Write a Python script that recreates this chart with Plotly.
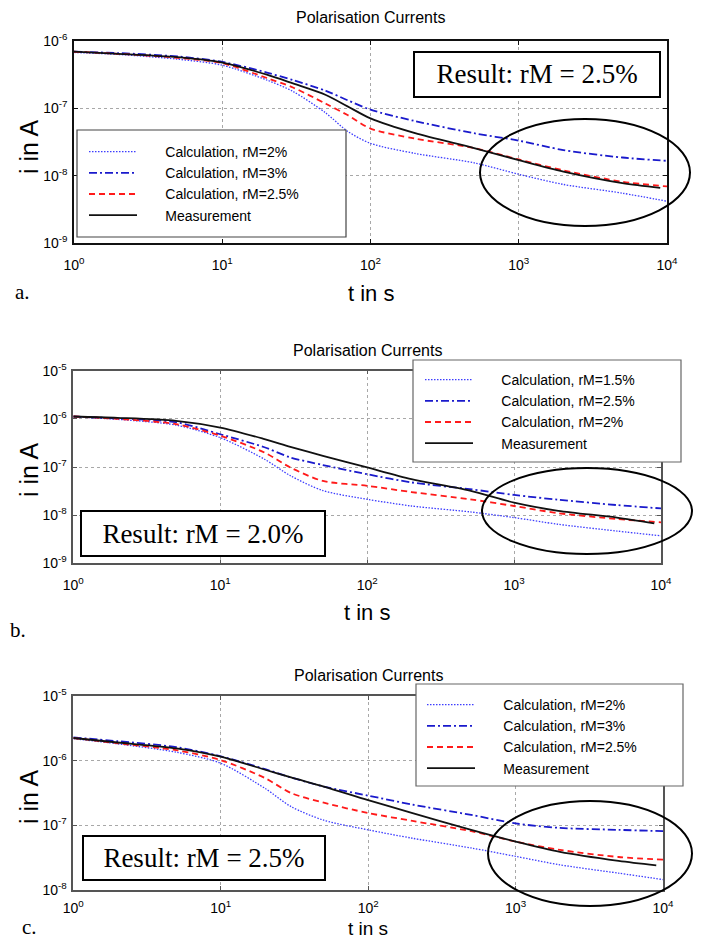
import plotly.graph_objects as go

# The page body has an 8px margin, so the figure is sized to fit inside it
# and reference page pixels are converted to figure pixels (minus 8).
OFF = 8
W, H = 701 - 2 * OFF, 949 - 2 * OFF


def px(x):
    return (x - OFF) / W


def py(y):
    return 1 - (y - OFF) / H


# ---------------- data ----------------
x_tickvals = [1, 10, 100, 1000, 10000]
x_ticktext = ["10<sup>0</sup>", "10<sup>1</sup>", "10<sup>2</sup>", "10<sup>3</sup>", "10<sup>4</sup>"]

# panel a
t_a_calc = [1, 2, 5, 10, 20, 30, 50, 70, 100, 200, 500, 1000, 2000, 5000, 10000]
t_a_meas = [1, 2, 5, 10, 20, 30, 50, 70, 100, 200, 500, 1000, 2000, 5000, 9000]
a_calc_2 = [6.76e-7, 6.31e-7, 5.37e-7, 4.37e-7, 2.63e-7, 1.78e-7, 8.51e-8, 4.57e-8, 3.02e-8, 2.14e-8, 1.55e-8, 1.05e-8, 7.41e-9, 5.50e-9, 4.17e-9]
a_calc_3 = [6.92e-7, 6.61e-7, 5.89e-7, 4.90e-7, 3.39e-7, 2.63e-7, 1.82e-7, 1.32e-7, 9.55e-8, 6.46e-8, 4.27e-8, 3.31e-8, 2.40e-8, 1.86e-8, 1.66e-8]
a_calc_25 = [6.92e-7, 6.46e-7, 5.62e-7, 4.68e-7, 2.82e-7, 2.04e-7, 1.17e-7, 7.94e-8, 5.01e-8, 3.55e-8, 2.57e-8, 1.74e-8, 1.20e-8, 8.13e-9, 6.92e-9]
a_meas = [6.95e-7, 6.46e-7, 5.75e-7, 4.79e-7, 3.16e-7, 2.34e-7, 1.58e-7, 1.07e-7, 7.08e-8, 4.27e-8, 2.57e-8, 1.70e-8, 1.15e-8, 7.76e-9, 6.61e-9]
a_names = ["Calculation, rM=2%", "Calculation, rM=3%", "Calculation, rM=2.5%", "Measurement"]
a_yvals = [1e-9, 1e-8, 1e-7, 1e-6]
a_ytext = ["10<sup>-9</sup>", "10<sup>-8</sup>", "10<sup>-7</sup>", "10<sup>-6</sup>"]
a_result = "Result: rM = 2.5%"

# panel b
t_b_calc = [1, 2, 5, 10, 20, 30, 50, 100, 200, 500, 1000, 2000, 5000, 10000]
t_b_meas = [1, 2, 5, 10, 20, 30, 50, 100, 200, 500, 1000, 2000, 5000, 9000]
b_calc_15 = [1.10e-6, 9.77e-7, 7.41e-7, 4.07e-7, 1.45e-7, 6.61e-8, 3.24e-8, 2.14e-8, 1.55e-8, 1.17e-8, 8.91e-9, 6.46e-9, 4.68e-9, 3.72e-9]
b_calc_25 = [1.12e-6, 1.02e-6, 8.51e-7, 4.79e-7, 2.57e-7, 1.58e-7, 1.10e-7, 7.08e-8, 4.79e-8, 3.47e-8, 2.63e-8, 2.09e-8, 1.62e-8, 1.38e-8]
b_calc_2 = [1.12e-6, 1.00e-6, 7.76e-7, 4.47e-7, 2.00e-7, 9.77e-8, 5.13e-8, 4.07e-8, 3.02e-8, 2.14e-8, 1.55e-8, 1.10e-8, 8.32e-9, 7.08e-9]
b_meas = [1.12e-6, 1.05e-6, 9.12e-7, 6.61e-7, 3.80e-7, 2.63e-7, 1.70e-7, 9.77e-8, 5.62e-8, 3.24e-8, 1.82e-8, 1.23e-8, 8.91e-9, 6.76e-9]
b_names = ["Calculation, rM=1.5%", "Calculation, rM=2.5%", "Calculation, rM=2%", "Measurement"]
b_yvals = [1e-9, 1e-8, 1e-7, 1e-6, 1e-5]
b_ytext = ["10<sup>-9</sup>", "10<sup>-8</sup>", "10<sup>-7</sup>", "10<sup>-6</sup>", "10<sup>-5</sup>"]
b_result = "Result: rM = 2.0%"

# panel c
t_c_calc = [1, 2, 5, 10, 20, 30, 50, 100, 200, 500, 1000, 2000, 5000, 10000]
t_c_meas = [1, 2, 5, 10, 20, 30, 50, 100, 200, 500, 1000, 2000, 5000, 9000]
c_calc_2 = [2.19e-6, 1.82e-6, 1.35e-6, 9.12e-7, 3.72e-7, 1.95e-7, 1.20e-7, 8.51e-8, 6.31e-8, 4.47e-8, 3.31e-8, 2.45e-8, 1.82e-8, 1.45e-8]
c_calc_3 = [2.29e-6, 2.00e-6, 1.62e-6, 1.17e-6, 7.41e-7, 5.50e-7, 3.98e-7, 2.88e-7, 2.09e-7, 1.45e-7, 1.07e-7, 9.12e-8, 8.51e-8, 8.13e-8]
c_calc_25 = [2.24e-6, 1.86e-6, 1.45e-6, 1.02e-6, 5.37e-7, 3.16e-7, 2.24e-7, 1.55e-7, 1.17e-7, 8.13e-8, 5.62e-8, 4.17e-8, 3.24e-8, 2.95e-8]
c_meas = [2.24e-6, 1.91e-6, 1.55e-6, 1.15e-6, 7.24e-7, 5.50e-7, 3.98e-7, 2.45e-7, 1.55e-7, 8.51e-8, 5.62e-8, 3.89e-8, 2.82e-8, 2.40e-8]
c_names = ["Calculation, rM=2%", "Calculation, rM=3%", "Calculation, rM=2.5%", "Measurement"]
c_yvals = [1e-8, 1e-7, 1e-6, 1e-5]
c_ytext = ["10<sup>-8</sup>", "10<sup>-7</sup>", "10<sup>-6</sup>", "10<sup>-5</sup>"]
c_result = "Result: rM = 2.5%"

title_text = "Polarisation Currents"
x_title = "t in s"
y_title = "i in A"
panel_letters = ["a.", "b.", "c."]

# ---------------- styles ----------------
SANS = "Liberation Sans, Arial, sans-serif"
SERIF = "Liberation Serif, Times New Roman, serif"
PAD = "\u00a0" * 6

styles = [
    dict(color="#3d3dff", width=1.3, dash="1.5px,1.5px"),
    dict(color="#1a1acc", width=1.8, dash="8px,3px,2px,3px"),
    dict(color="#ff1a1a", width=1.8, dash="6px,4px"),
    dict(color="#111111", width=1.8, dash="solid"),
]

fig = go.Figure()

panels = [
    dict(xa="x", ya="y", leg="legend",
         series=[(t_a_calc, a_calc_2), (t_a_calc, a_calc_3), (t_a_calc, a_calc_25), (t_a_meas, a_meas)],
         names=a_names),
    dict(xa="x2", ya="y2", leg="legend2",
         series=[(t_b_calc, b_calc_15), (t_b_calc, b_calc_25), (t_b_calc, b_calc_2), (t_b_meas, b_meas)],
         names=b_names),
    dict(xa="x3", ya="y3", leg="legend3",
         series=[(t_c_calc, c_calc_2), (t_c_calc, c_calc_3), (t_c_calc, c_calc_25), (t_c_meas, c_meas)],
         names=c_names),
]

for p in panels:
    for (tx, vy), nm, st in zip(p["series"], p["names"], styles):
        fig.add_trace(go.Scatter(
            x=tx, y=vy, mode="lines", name=PAD + nm,
            xaxis=p["xa"], yaxis=p["ya"], legend=p["leg"],
            line=dict(color=st["color"], width=st["width"], dash=st["dash"],
                      shape="spline", smoothing=0.8),
        ))

# geometry (reference page pixels)
geo = [
    dict(l=74, r=667, t=41, b=243, yr=[-9, -6], yv=a_yvals, yt=a_ytext, frame="#111111", so=8),
    dict(l=73.3, r=661, t=370.7, b=563.3, yr=[-9, -5], yv=b_yvals, yt=b_ytext, frame="#555555", so=8),
    dict(l=73.3, r=663, t=696, b=890, yr=[-8, -5], yv=c_yvals, yt=c_ytext, frame="#555555", so=4),
]

layout = dict(
    width=W, height=H, margin=dict(l=0, r=0, t=0, b=0, autoexpand=False),
    paper_bgcolor="white", plot_bgcolor="white", showlegend=True,
    font=dict(family=SANS, color="black"),
)

for i, g in enumerate(geo):
    sfx = "" if i == 0 else str(i + 1)
    common = dict(
        showline=True, linecolor=g["frame"], linewidth=1.5, mirror="ticks",
        ticks="inside", ticklen=4, tickcolor=g["frame"],
        showgrid=True, gridcolor="#a8a8a8", griddash="dot", gridwidth=1,
        zeroline=False, tickfont=dict(family=SANS, size=14, color="black"),
    )
    layout["xaxis" + sfx] = dict(
        type="log", range=[0, 4], domain=[px(g["l"]), px(g["r"])],
        anchor="y" + sfx, tickmode="array", tickvals=x_tickvals, ticktext=x_ticktext,
        ticklabelstandoff=g["so"], **common)
    layout["yaxis" + sfx] = dict(
        type="log", range=g["yr"], domain=[py(g["b"]), py(g["t"])],
        anchor="x" + sfx, tickmode="array", tickvals=g["yv"], ticktext=g["yt"],
        ticklabelstandoff=2, **common)

fig.update_layout(**layout)

# legends (box drawn as a shape, entries from the native legend)
leg_geo = [
    dict(box=(77, 130, 346, 237), x=84, y=136, lc="#444444"),
    dict(box=(413, 360, 681, 462), x=420, y=364, lc="#666666"),
    dict(box=(416, 684, 683, 786), x=422, y=689, lc="#666666"),
]
shapes = []
for i, lg in enumerate(leg_geo):
    key = "legend" if i == 0 else "legend" + str(i + 1)
    fig.update_layout(**{key: dict(
        x=px(lg["x"]), y=py(lg["y"]), xanchor="left", yanchor="top",
        bgcolor="rgba(0,0,0,0)", borderwidth=0, itemwidth=48,
        font=dict(family=SANS, size=14, color="black"),
        traceorder="normal", itemclick=False, itemdoubleclick=False,
    )})
    x0, y0, x1, y1 = lg["box"]
    shapes.append(dict(type="rect", xref="paper", yref="paper",
                       x0=px(x0), x1=px(x1), y0=py(y0), y1=py(y1),
                       fillcolor="white", line=dict(color=lg["lc"], width=1.2),
                       layer="above"))

# ellipses
ellipses = [(480, 119, 690, 226), (482, 468, 692, 554), (488, 801, 692, 906)]
for (x0, y0, x1, y1) in ellipses:
    shapes.append(dict(type="circle", xref="paper", yref="paper",
                       x0=px(x0), x1=px(x1), y0=py(y0), y1=py(y1),
                       line=dict(color="black", width=2), layer="above"))
fig.update_layout(shapes=shapes)

annotations = []
# result boxes
results = [(a_result, (412.6, 51, 660.7, 97.7)), (b_result, (80, 510, 326, 557)), (c_result, (82, 835, 326, 881))]
for txt, (x0, y0, x1, y1) in results:
    annotations.append(dict(
        text=txt, xref="paper", yref="paper", x=px((x0 + x1) / 2), y=py((y0 + y1) / 2),
        xanchor="center", yanchor="middle", showarrow=False,
        width=x1 - x0 - 4, height=y1 - y0 - 4, borderpad=0,
        bordercolor="black", borderwidth=2, bgcolor="white",
        font=dict(family=SERIF, size=27, color="black"),
    ))

# titles, axis titles, panel letters  (y given with its anchor)
title_y = [18, 351, 675]
xt = [(293, "middle", 22), (612, "middle", 22), (941, "bottom", 19)]
yt_y = [147, 470, 797]
letters = [(22, 292, "middle"), (18, 630, "middle"), (29, 941, "bottom")]
for i in range(3):
    cx = (geo[i]["l"] + geo[i]["r"]) / 2
    annotations.append(dict(text=title_text, xref="paper", yref="paper", x=px(cx), y=py(title_y[i]),
                            xanchor="center", yanchor="middle", showarrow=False,
                            font=dict(family=SANS, size=16, color="black")))
    ty, tanc, tfs = xt[i]
    annotations.append(dict(text=x_title, xref="paper", yref="paper", x=px(cx), y=py(ty),
                            xanchor="center", yanchor=tanc, showarrow=False,
                            font=dict(family=SANS, size=tfs, color="black")))
    annotations.append(dict(text=y_title, xref="paper", yref="paper", x=px(29), y=py(yt_y[i]),
                            xanchor="center", yanchor="middle", showarrow=False, textangle=-90,
                            font=dict(family=SANS, size=25, color="black")))
    lx, ly, lanc = letters[i]
    annotations.append(dict(text=panel_letters[i], xref="paper", yref="paper", x=px(lx), y=py(ly),
                            xanchor="center", yanchor=lanc, showarrow=False,
                            font=dict(family=SERIF, size=21, color="black")))

fig.update_layout(annotations=annotations)

fig.write_html("out.html")
